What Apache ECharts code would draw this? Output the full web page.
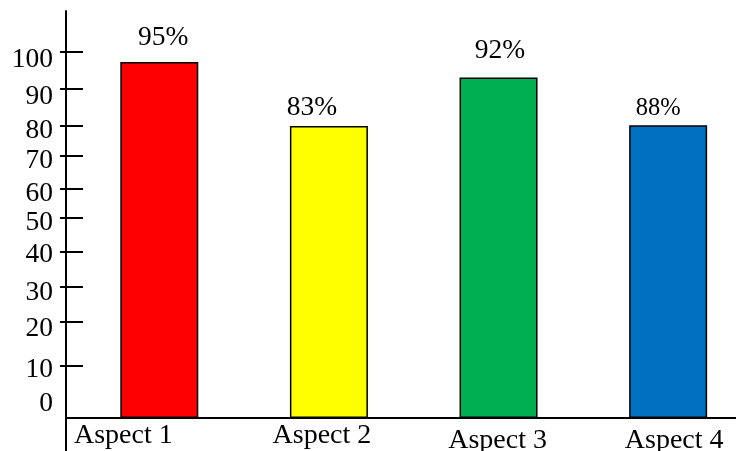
<!DOCTYPE html>
<html>
<head>
<meta charset="utf-8">
<script src="https://cdn.jsdelivr.net/npm/echarts@6/dist/echarts.min.js"></script>
<style>
  html, body { margin: 0; padding: 0; background: #fff; }
  #chart { width: 736px; height: 451px; }
</style>
</head>
<body>
<div id="chart"></div>
<script>
// categories and bars
const categories = ['Aspect 1', 'Aspect 2', 'Aspect 3', 'Aspect 4'];
const barValues = [97.3, 79.8, 93.0, 80.0];   // heights as drawn
const barLabels = ['95%', '83%', '92%', '88%']; // printed text
const barColors = ['#ff0000', '#ffff00', '#00b050', '#0070c0'];

// y tick labels, and where ticks / labels sit on the (unevenly drawn) axis
const tickText = ['100', '90', '80', '70', '60', '50', '40', '30', '20', '10', '0'];
const tickAt = [100, 89.9, 79.8, 71.6, 62.6, 54.6, 45.4, 35.8, 26.2, 14.2];
const labelAt = [97.8, 87.8, 78.4, 70.3, 61.3, 53.3, 44.5, 34.2, 24.4, 13.2, 4.0];

const font = 'Liberation Serif';
const labelNudge = [[4, -5], [-17, 1], [1.5, -8], [-10, 1]]; // label offsets per bar
const labelSize = [27.5, 27.5, 27.5, 24.5];

let chart = echarts.init(document.getElementById('chart'));

let option = {
    animation: false,
    grid: { left: 66, right: 0, top: 11, bottom: 0, outerBoundsMode: 'none' },
    xAxis: {
        type: 'value',
        min: -0.55,
        max: 3.4,
        splitLine: { show: false },
        axisTick: { show: false },
        axisLine: { onZero: true, lineStyle: { color: '#000', width: 2 } },
        axisLabel: {
            customValues: [0, 1, 2, 3],
            margin: -29,
            color: '#000',
            fontFamily: font,
            fontSize: 28,
            formatter: function (v) {
                return '{s' + v + '|' + categories[v] + '}';
            },
            // labels in the picture are not centred under their bars
            rich: {
                s0: { fontFamily: font, fontSize: 28, color: '#000', padding: [0, 72, 0, 0] },
                s1: { fontFamily: font, fontSize: 28, color: '#000', padding: [0, 14, 0, 0] },
                s2: { fontFamily: font, fontSize: 28, color: '#000', padding: [5, 2, 0, 0] },
                s3: { fontFamily: font, fontSize: 28, color: '#000', padding: [5, 0, 0, 12] }
            }
        }
    },
    yAxis: [
        {
            type: 'value',
            min: -9,
            max: 111.2,
            splitLine: { show: false },
            axisLine: { show: true, onZero: false, lineStyle: { color: '#000', width: 2 } },
            axisTick: {
                show: true,
                length: 6,
                customValues: tickAt,
                lineStyle: { color: '#000', width: 2 }
            },
            axisLabel: {
                customValues: labelAt,
                margin: 13,
                color: '#000',
                fontFamily: font,
                fontSize: 27.5,
                formatter: function (v) {
                    return tickText[labelAt.indexOf(v)];
                }
            }
        },
        {
            // inner half of the crossing ticks
            type: 'value',
            position: 'left',
            min: -9,
            max: 111.2,
            splitLine: { show: false },
            axisLine: { show: false, onZero: false },
            axisLabel: { show: false },
            axisTick: {
                show: true,
                inside: true,
                length: 17,
                customValues: tickAt,
                lineStyle: { color: '#000', width: 2 }
            }
        }
    ],
    series: [
        {
            type: 'bar',
            barWidth: 78,
            data: barValues.map(function (v, i) {
                return {
                    value: [i, v],
                    itemStyle: { color: barColors[i], borderColor: '#000', borderWidth: 1.5 },
                    label: {
                        show: true,
                        position: 'top',
                        formatter: barLabels[i],
                        offset: labelNudge[i],
                        fontFamily: font,
                        fontSize: labelSize[i],
                        color: '#000'
                    }
                };
            })
        }
    ]
};

chart.setOption(option);
</script>
</body>
</html>
